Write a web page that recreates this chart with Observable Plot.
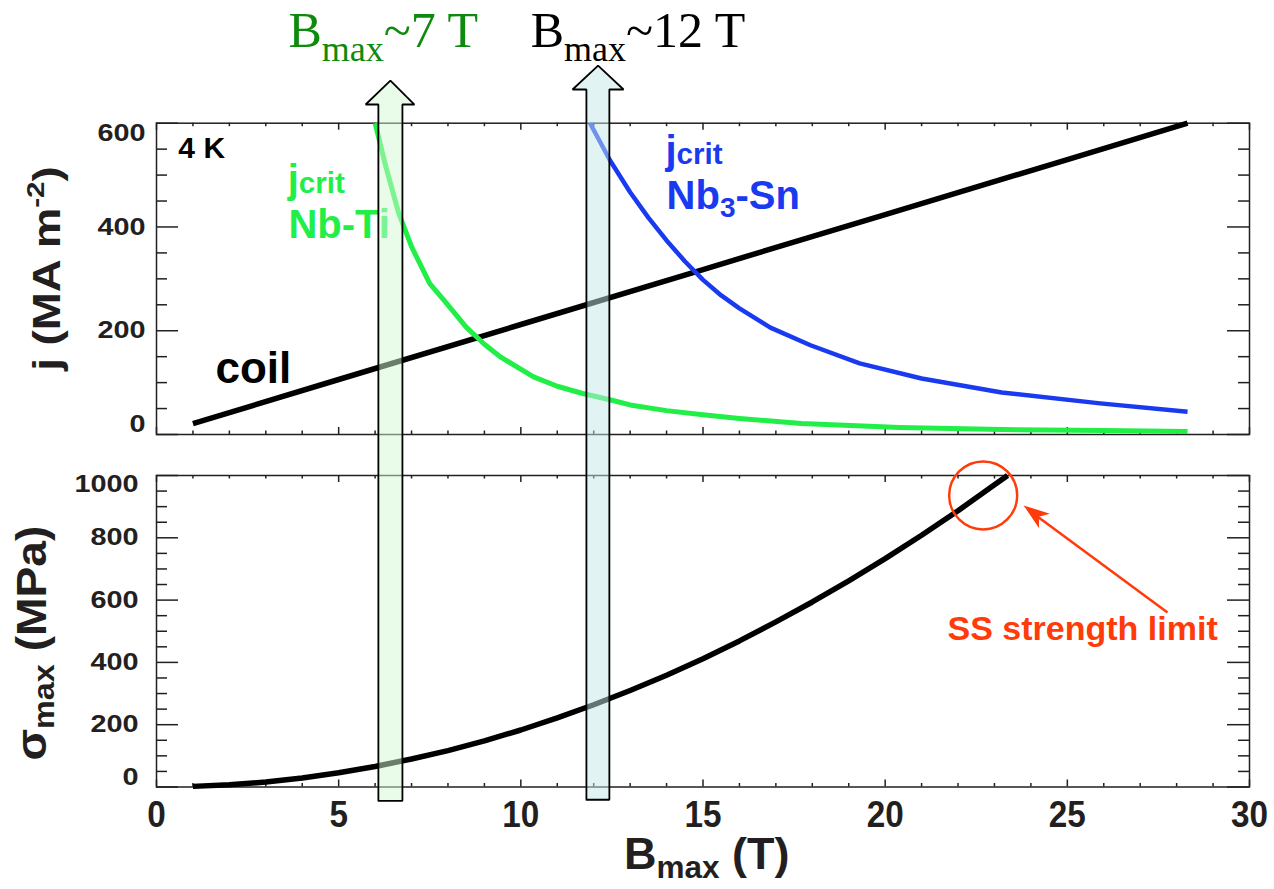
<!DOCTYPE html>
<html><head><meta charset="utf-8">
<script src="https://cdn.jsdelivr.net/npm/d3@7"></script>
<script src="https://cdn.jsdelivr.net/npm/@observablehq/plot@0.6"></script>
<style>
html,body{margin:0;padding:0;background:#fff;overflow:hidden;}
#fig{position:relative;width:1274px;height:889px;overflow:hidden;background:#fff;}
#fig svg{position:absolute;left:0;top:0;overflow:visible;background:transparent !important;max-width:none;}
</style></head><body><div id="fig"></div>
<script>
// ---------------- data ----------------
const coilB = [1, 5, 10, 15, 20, 25, 28.3];
const coilJ = [21, 106, 212, 318, 424, 530, 600];

const nbtiB = [6.0, 6.3, 6.65, 7.0, 7.5, 7.9, 8.5, 9.0, 9.45, 10.35, 11.0, 11.7, 12.5, 13.0, 14.0, 15.0, 16.0, 17.7, 20.4, 23.2, 26.0, 28.3];
const nbtiJ = [600, 515, 426, 362, 291, 258, 207, 174, 149, 111, 93, 79, 66, 57, 46, 38, 31, 21, 13.5, 9.6, 7.5, 6];

const nb3snB = [11.9, 12.45, 13.0, 13.5, 14.0, 14.5, 15.0, 15.5, 16.0, 16.85, 17.95, 19.3, 21.0, 23.2, 25.9, 28.3];
const nb3snJ = [600, 528, 467, 418, 374, 334, 298, 268, 243, 206, 172, 137, 108, 81, 60, 44];

const sigB = [1, 2, 3, 4, 5, 6, 7, 8, 9, 10, 11, 12, 13, 14, 15, 16, 17, 18, 19, 20, 21, 22, 23, 23.36];
const sigS = [2, 7, 16, 29, 46, 66, 90, 117, 148, 183, 222, 264, 310, 359, 412, 469, 530, 594, 662, 733, 808, 887, 970, 1000];

// tick values / labels
const xMajor = [0, 5, 10, 15, 20, 25, 30];
const xLabels = ["0", "5", "10", "15", "20", "25", "30"];
const xMinor = d3.range(0, 31).filter(v => v % 5);
const jMajor = [0, 200, 400, 600];
const jMinor = d3.range(50, 600, 50).filter(v => v % 200);
const sMajor = [0, 200, 400, 600, 800, 1000];
const sMinor = d3.range(50, 1000, 50).filter(v => v % 200);

// annotation arrows (B ranges) : shaft b0..b1, head h0..h1, tip
const arrowNames = ["Nb-Ti", "Nb3Sn"];
const arrowShaft = [[6.09, 6.75], [11.80, 12.43]];
const arrowHead = [[5.74, 7.08], [11.42, 12.82]];
const arrowTipB = [6.42, 12.12];
const arrowTipJ = [682, 711];
const arrowBaseJ = [636, 665];
const arrowFootJ = [-706, -704];
const arrowFill = ["rgb(212,248,212)", "rgb(198,232,232)"];

// SS strength limit
const limitB = 22.69, limitS = 936;

// ---------------- style ----------------
const W = 1274, H = 889;
const L = 156, R = 1249;
const T1 = 122.7, B1 = 434;
const T2 = 475, B2 = 786.5;
const FW = R - L;
const INK = "#231f20";
const GREEN = "#22ee48";
const BLUE = "#1a3af0";
const RED = "#ff3b0a";
const DKGREEN = "#0e8a0e";
const SANS = "Liberation Sans, Arial, Helvetica, sans-serif";
const SERIF = "Liberation Serif, Times New Roman, serif";

const rows = (xs, ys) => xs.map((b, i) => ({b, v: ys[i]}));
const tag = name => () => name;

function frameTicks(yMaj, yMin, FH) {
  const s = {stroke: INK, strokeWidth: 1.5};
  return [
    Plot.tickY(yMaj, {y: d => d, insetRight: FW - 22, ...s}),
    Plot.tickY(yMin, {y: d => d, insetRight: FW - 11, ...s}),
    Plot.tickY(yMaj, {y: d => d, insetLeft: FW - 22, ...s}),
    Plot.tickY(yMin, {y: d => d, insetLeft: FW - 11, ...s}),
    Plot.tickX(xMajor, {x: d => d, insetTop: FH - 7, ...s}),
    Plot.tickX(xMinor, {x: d => d, insetTop: FH - 3.5, ...s}),
    Plot.tickX(xMajor, {x: d => d, insetBottom: FH - 7, ...s}),
    Plot.tickX(xMinor, {x: d => d, insetBottom: FH - 3.5, ...s}),
    Plot.frame({stroke: INK, strokeWidth: 1.5})
  ];
}
function yTickLabels(vals, gap, hiDy, loDy) {
  const o = {x: 0, y: d => d, text: d => String(d), textAnchor: "end", dx: -gap,
             fill: INK, fontWeight: "bold", fontSize: 24, fontFamily: SANS, ariaLabel: tag("ytl")};
  return [
    Plot.text(vals.slice(1, -1), o),
    Plot.text([vals[vals.length - 1]], {...o, dy: hiDy}),
    Plot.text([vals[0]], {...o, dy: loDy})
  ];
}
function arrowMarks() {
  return arrowNames.map((n, i) => {
    const [b0, b1] = arrowShaft[i], [h0, h1] = arrowHead[i];
    const pts = [
      {b: b0, v: arrowFootJ[i]}, {b: b0, v: arrowBaseJ[i]}, {b: h0, v: arrowBaseJ[i]},
      {b: arrowTipB[i], v: arrowTipJ[i]}, {b: h1, v: arrowBaseJ[i]}, {b: b1, v: arrowBaseJ[i]},
      {b: b1, v: arrowFootJ[i]}, {b: b0, v: arrowFootJ[i]}
    ];
    return Plot.line(pts, {x: "b", y: "v", fill: arrowFill[i], fillOpacity: 0.5,
      stroke: "#000", strokeWidth: 1.8, strokeLinejoin: "miter", curve: "linear"});
  });
}
const bold = {fontWeight: "bold", fontFamily: SANS, textAnchor: "start", lineAnchor: "middle"};

// arrow head symbol (tip at origin, rotated toward upper-left)
const headAngle = -53.4 * Math.PI / 180;
const headSymbol = {
  draw(ctx) {
    const pts = [[0, 0], [-9, 26], [0, 19], [9, 26]].map(([x, y]) => [
      x * Math.cos(headAngle) - y * Math.sin(headAngle),
      x * Math.sin(headAngle) + y * Math.cos(headAngle)
    ]);
    ctx.moveTo(...pts[0]); for (let k = 1; k < pts.length; k++) ctx.lineTo(...pts[k]); ctx.closePath();
  }
};

// ---------------- bottom panel ----------------
const bottom = Plot.plot({
  width: W, height: H, marginLeft: L, marginRight: W - R, marginTop: T2, marginBottom: H - B2,
  x: {domain: [0, 30], axis: null}, y: {domain: [0, 1000], axis: null},
  style: {background: "transparent", overflow: "visible", fontFamily: SANS},
  marks: [
    ...frameTicks(sMajor, sMinor, B2 - T2),
    ...yTickLabels(sMajor, 18, 8.5, -9.5),
    Plot.text(xMajor, {x: d => d, y: 0, text: (d, i) => xLabels[i], dy: 28, textAnchor: "middle",
      fill: INK, fontWeight: "bold", fontSize: 37, fontFamily: SANS, ariaLabel: tag("xtl")}),
    Plot.line(rows(sigB, sigS), {x: "b", y: "v", stroke: "#000", strokeWidth: 5.5, strokeLinecap: "butt"}),
    Plot.dot([{b: limitB, v: limitS}], {x: "b", y: "v", r: 34, stroke: RED, strokeWidth: 2.5, fill: "none"}),
    Plot.link([{b1: 27.75, v1: 560, b2: 24.15, v2: 871}], {x1: "b1", y1: "v1", x2: "b2", y2: "v2", stroke: RED, strokeWidth: 2.5}),
    Plot.dot([{b: 23.8, v: 904}], {x: "b", y: "v", symbol: headSymbol, r: 10, fill: RED, stroke: "none"}),
    Plot.text(["SS strength limit"], {...bold, x: 25.42, y: 506, text: d => d, textAnchor: "middle", fontSize: 34, fill: RED}),
    Plot.text(["σ_{max} (MPa)"], {...bold, x: -3.41, y: 462, text: d => d, textAnchor: "middle", rotate: -90, fontSize: 42, fill: INK, ariaLabel: tag("ylab2")}),
    Plot.text(["B_{max} (T)"], {...bold, x: 15.1, y: -218, text: d => d, textAnchor: "middle", fontSize: 45, fill: INK})
  ]
});

// ---------------- top panel (also carries arrows & titles) ----------------
const topPanel = Plot.plot({
  width: W, height: H, marginLeft: L, marginRight: W - R, marginTop: T1, marginBottom: H - B1,
  x: {domain: [0, 30], axis: null}, y: {domain: [0, 600], axis: null},
  style: {background: "transparent", overflow: "visible", fontFamily: SANS},
  marks: [
    ...frameTicks(jMajor, jMinor, B1 - T1),
    ...yTickLabels(jMajor, 11, 10, -10),
    Plot.line(rows(coilB, coilJ), {x: "b", y: "v", stroke: "#000", strokeWidth: 5.5, strokeLinecap: "butt"}),
    Plot.line(rows(nbtiB, nbtiJ), {x: "b", y: "v", stroke: GREEN, strokeWidth: 5, strokeLinecap: "butt"}),
    Plot.line(rows(nb3snB, nb3snJ), {x: "b", y: "v", stroke: BLUE, strokeWidth: 4.5, strokeLinecap: "butt"}),
    Plot.text(["4 K"], {...bold, x: 0.6, y: 551, text: d => d, fontSize: 30, fill: "#000"}),
    Plot.text(["coil"], {...bold, x: 1.62, y: 125.5, text: d => d, fontSize: 44, fill: "#000"}),
    Plot.text(["j!{crit}"], {...bold, x: 3.6, y: 491, text: d => d, fontSize: 40, fill: GREEN}),
    Plot.text(["Nb-Ti"], {...bold, x: 3.62, y: 404, text: d => d, fontSize: 40, fill: GREEN}),
    Plot.text(["j!{crit}"], {...bold, x: 13.97, y: 547, text: d => d, fontSize: 40, fill: BLUE}),
    Plot.text(["Nb_{3}-Sn"], {...bold, x: 14.0, y: 460, text: d => d, fontSize: 40, fill: BLUE}),
    Plot.text(["j (MA m^{-2})"], {...bold, x: -2.98, y: 320, text: d => d, textAnchor: "middle", rotate: -90, fontSize: 38, fill: INK, ariaLabel: tag("ylab1")}),
    ...arrowMarks(),
    Plot.text(["B_{max}~7 T"], {x: 3.62, y: 777, text: d => d, fontFamily: SERIF, fontSize: 50, textAnchor: "start", fill: DKGREEN}),
    Plot.text(["B_{max}~12 T"], {x: 10.27, y: 777, text: d => d, fontFamily: SERIF, fontSize: 50, textAnchor: "start", fill: "#000"})
  ]
});

const fig = document.getElementById("fig");
fig.appendChild(bottom);
fig.appendChild(topPanel);

// ---------- rich text (sub/superscripts) ----------
const NS = "http://www.w3.org/2000/svg";
function rich(el) {
  const s = el.textContent;
  if (!/[_^!]\{/.test(s)) return;
  const fs = parseFloat(getComputedStyle(el).fontSize);
  const serif = /Serif/.test(getComputedStyle(el).fontFamily);
  const re = /_\{([^}]*)\}|\^\{([^}]*)\}|!\{([^}]*)\}|([^_^!]+)/g;
  while (el.firstChild) el.removeChild(el.firstChild);
  let cur = 0, m;
  while ((m = re.exec(s))) {
    let txt, size = fs, target = 0;
    if (m[1] !== undefined) { txt = m[1]; size = fs * (serif ? 0.72 : 0.7); target = fs * (serif ? 0.27 : 0.2); }
    else if (m[2] !== undefined) { txt = m[2]; size = fs * 0.65; target = -fs * 0.42; }
    else if (m[3] !== undefined) { txt = m[3]; size = fs * 0.74; target = 0; }
    else { txt = m[4]; }
    const t = document.createElementNS(NS, "tspan");
    t.setAttribute("dy", (target - cur).toFixed(2));
    t.setAttribute("font-size", size.toFixed(2));
    t.textContent = txt;
    el.appendChild(t);
    cur = target;
  }
}
function stretch(svg, label, sx, sy = 1) {
  svg.querySelectorAll(`text[aria-label="${label}"], g[aria-label="${label}"] text`).forEach(el => {
    let t = el.getAttribute("transform");
    if (!t) {
      const x = el.getAttribute("x") || 0, y = el.getAttribute("y") || 0;
      el.removeAttribute("x"); el.removeAttribute("y");
      t = `translate(${x},${y})`;
    }
    el.setAttribute("transform", `${t} scale(${sx},${sy})`);
  });
}
[bottom, topPanel].forEach(svg => svg.querySelectorAll("text").forEach(rich));
stretch(bottom, "ytl", 1.2); stretch(topPanel, "ytl", 1.2);
stretch(bottom, "xtl", 0.9);
stretch(topPanel, "ylab1", 1.2);
stretch(bottom, "ylab2", 1.1);
</script></body></html>
